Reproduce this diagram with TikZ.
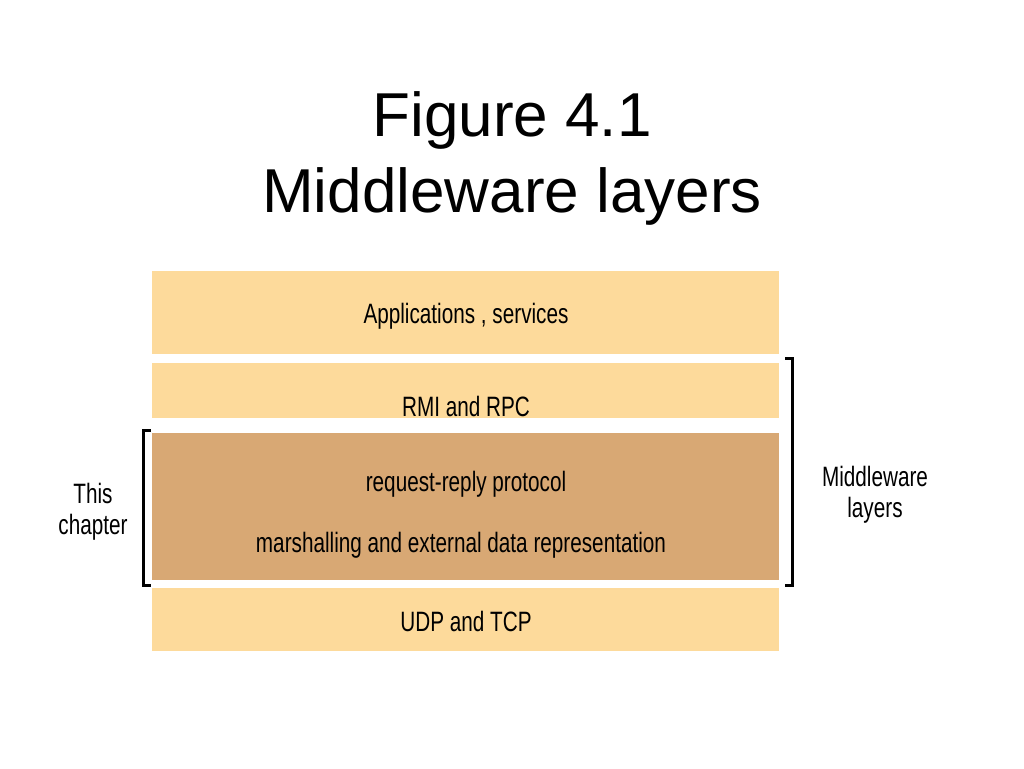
\documentclass[tikz,border=0pt]{standalone}
\usepackage{fontspec}
\setmainfont{Liberation Sans}
\newfontfamily\narrowfont[FakeStretch=0.74]{Liberation Sans}
\usepackage{tikz}
\usetikzlibrary{positioning}
\definecolor{lightlayer}{RGB}{253,218,155}
\definecolor{darklayer}{RGB}{216,168,116}
\tikzset{
  layer/.style={fill=lightlayer, draw=none, minimum width=627pt, inner sep=0pt, anchor=north west},
  midlayer/.style={layer, fill=darklayer},
  label/.style={font=\narrowfont\fontsize{28}{31}\selectfont, align=center, inner sep=0pt},
  brack/.style={line width=3pt, line cap=rect}
}
\begin{document}
\begin{tikzpicture}[x=1pt, y=-1pt]
    \useasboundingbox[fill=white] (0,0) rectangle (1024,768);
    \node[font=\fontsize{62}{76}\selectfont, align=center, inner sep=0pt, anchor=base] (title) at (512,212) {Figure 4.1\\Middleware layers};
    \node[layer, minimum height=83pt] (apps) at (152,271) {};
    \node[layer, minimum height=55pt] (rmi) at (152,363) {};
    \node[midlayer, minimum height=147pt] (rr) at (152,433) {};
    \node[layer, minimum height=63pt] (udp) at (152,588) {};
    \node[label] (appstext) at (466,316) {Applications , services};
    \node[label] (rmitext) at (466,406) {RMI and RPC};
    \node[label] (rrtext) at (466,484) {request-reply protocol};
    \node[label] (marshtext) at (461,545) {marshalling and external data representation};
    \node[label] (udptext) at (466,621) {UDP and TCP};
    \node[label] (chapter) at (93,512) {This\\chapter};
    \node[label] (middle) at (875,495) {Middleware\\layers};
    \coordinate (lt) at (149,430);
    \coordinate (lb) at (149,585);
    \coordinate (rt) at (786,358);
    \coordinate (rb) at (786,585);
    \draw[brack] (lt) -- ++(-6,0) |- (lb);
    \draw[brack] (rt) -- ++(6,0) |- (rb);
\end{tikzpicture}
\end{document}
